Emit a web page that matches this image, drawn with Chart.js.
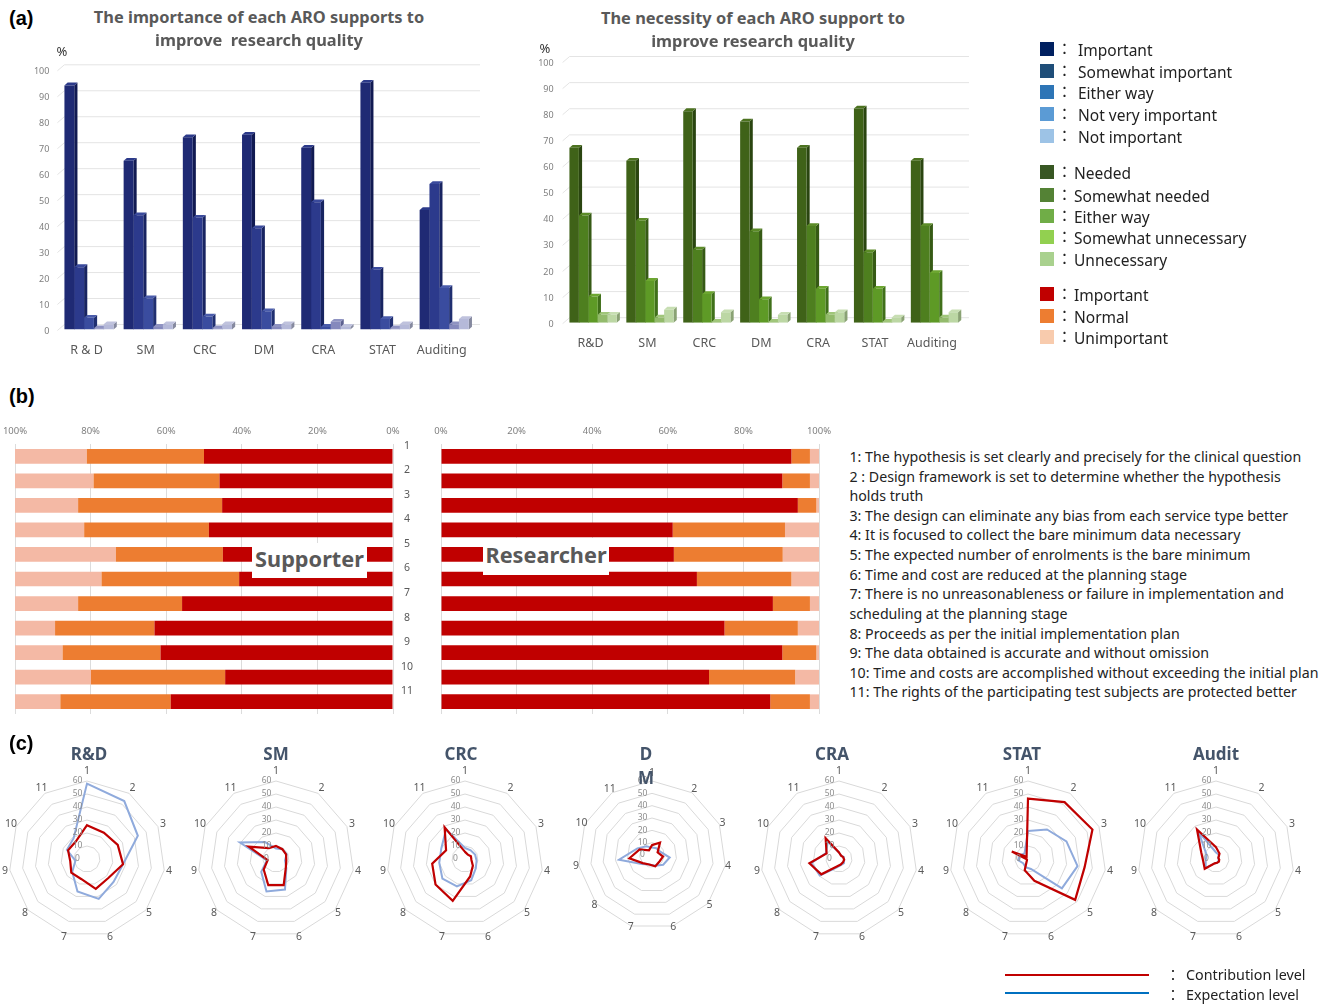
<!DOCTYPE html>
<html>
<head>
<meta charset="utf-8">
<title>ARO support charts</title>
<script src="https://cdn.jsdelivr.net/npm/chart.js@4"></script>
<style>
html,body{margin:0;padding:0;background:#fff;}
#page{position:relative;width:1332px;height:1004px;overflow:hidden;background:#fff;font-family:"Noto Sans",sans-serif;}
#page canvas{position:absolute;}
.t{position:absolute;white-space:pre;line-height:1;transform:translate(0,-50%);}
.c{transform:translate(-50%,-50%);}
.sq{position:absolute;width:14px;height:14px;}
.box{position:absolute;background:#fff;}
.ln{position:absolute;height:2px;}
</style>
</head>
<body>
<div id="page"></div>
<script>
// --- (a) bars ---
const AROS_A1 = ['R & D','SM','CRC','DM','CRA','STAT','Auditing'];
const AROS_A2 = ['R&D','SM','CRC','DM','CRA','STAT','Auditing'];
const PCT_TICKS = [0,10,20,30,40,50,60,70,80,90,100];

const impImportant = [94,65,74,75,70,95,46];
const impSomewhat  = [24,44,43,39,49,23,56];
const impEither    = [4.5,12,5,7,1,4,16];
const impNotVery   = [0.5,1,0.5,1,3,0.5,2];
const impNot       = [2,2,2,2,1,2,4];

const necNeeded    = [67,62,81,77,67,82,62];
const necSomewhat  = [41,39,28,35,37,27,37];
const necEither    = [10,16,11,9,13,13,19];
const necSomeUnn   = [3,2,0.3,0.3,3,0.3,2];
const necUnn       = [3,5,4,3,4,2,4];

// --- (b) stacked bars ---
const ITEMS = ['1','2','3','4','5','6','7','8','9','10','11'];
const supImportant = [50,45.9,45.2,48.7,45,40.7,55.8,63.1,61.5,44.4,58.8];
const supNormal    = [31,33.3,38.1,33,28.3,36.4,27.5,26.3,25.9,35.5,29.2];
const supUnimp     = [19,20.8,16.7,18.3,26.7,22.9,16.7,10.6,12.6,20.1,12];
const resImportant = [92.7,90.3,94.4,61.3,61.6,67.7,87.8,75,90.3,70.9,87.1];
const resNormal    = [4.9,7.3,4.9,29.7,28.8,25,9.8,19.4,9,22.8,10.5];
const resUnimp     = [2.4,2.4,0.7,9,9.6,7.3,2.4,5.6,0.7,6.3,2.4];

// --- (c) radar, item 1..11 ---
const rdContribution   = [26,24,26,28,22,24,16,16,13,16,16];
const rdExpectation    = [58,53,43,28,27,32,26,15,9,17,19];
const smContribution   = [10,9,8.5,8,10,21,21,12.5,6.5,23,10];
const smExpectation    = [8,9,9,7,10.5,24.5,26,15,7,30.5,15.5];
const crcContribution  = [5.5,4,5,5,8,14,33.5,30,25.5,16,29];
const crcExpectation   = [8.5,8,8.5,9,11,17,22,23,20,20,27];
const dmContribution   = [8,12,5,9,8,9.5,8,10,18.5,11,4.5];
const dmExpectation    = [6,6.5,7,14.5,12,9,8,11,27,13,8.5];
const craContribution  = [5,3,3.5,4,4,4.5,6,18,23,10.5,19];
const craExpectation   = [5,3,4,4,5,5,7,19.5,21.5,11,16];
const statContribution = [46.5,52,54.5,44,48,17.5,9,1,1,13.7,2];
const statExpectation  = [21.5,27,32.5,38.5,34.5,8,6.5,5,7.5,7,5];
const auditContribution = [9,5,2,2.5,3,3,3.5,11.5,10,12.5,27];
const auditExpectation  = [5,4,2,2,2.5,3,3.5,10.5,8,8,25];
const RADAR_TICKS_MAX = 60;

// colours
const BLUE_FACE = ['#1f2a74','#2c3a8c','#3a4c9f','#8589bd','#b5b9d9'];
const BLUE_SIDE = ['#111a52','#182461','#202f70','#5c6090','#85899f'];
const BLUE_TOP  = ['#2c3a8a','#3a4a9c','#4a5cab','#8f93c2','#bfc2dd'];
const GREEN_FACE = ['#3f6218','#4e7f1f','#5e9a26','#93bb6c','#bcd7a4'];
const GREEN_SIDE = ['#2a4510','#365a15','#40701a','#6a8a4c','#8aa274'];
const GREEN_TOP  = ['#4c7220','#5c8c28','#6ca630','#a0c67a','#c7deb2'];
const STACK_COLORS = ['#c00000','#ed7d31','#f4b9a5'];
const RED_LINE = '#c00000';
const BLUE_LINE = '#8faadc';
const TEXT = '#595959';

const page = document.getElementById('page');

function addText(txt,x,y,size,opts){
  opts = opts || {};
  const d = document.createElement('div');
  d.className = 't'+(opts.center?' c':'');
  d.textContent = txt;
  d.style.left = x+'px'; d.style.top = y+'px';
  d.style.fontSize = size+'px';
  d.style.color = opts.color || '#222';
  if(opts.bold) d.style.fontWeight = 'bold';
  if(opts.family) d.style.fontFamily = opts.family;
  page.appendChild(d);
}
function addCanvas(x,y,w,h){
  const c = document.createElement('canvas');
  c.width = w; c.height = h;
  c.style.left = x+'px'; c.style.top = y+'px';
  c.style.width = w+'px'; c.style.height = h+'px';
  page.appendChild(c);
  return c;
}
// no label overhang, plot area stays where the padding puts it
function noOverhang(a){ a.paddingLeft = 0; a.paddingRight = 0; a.paddingTop = 0; a.paddingBottom = 0; }

// back grid and bar extrusion, done from the scales and bar elements
const bar3d = {
  id:'bar3d',
  beforeDatasetsDraw(chart,args,o){
    const ctx = chart.ctx, y = chart.scales.y, x = chart.scales.x;
    ctx.save();
    ctx.strokeStyle = '#e4e4e4'; ctx.lineWidth = 1;
    y.ticks.forEach(t=>{
      const p = y.getPixelForValue(t.value);
      ctx.beginPath();
      ctx.moveTo(x.left-2,p+1); ctx.lineTo(x.left+5,p-5); ctx.lineTo(o.gridRight,p-5);
      ctx.stroke();
    });
    const dx = 3.2, dy = 2.8;
    for(let j=0;j<chart.data.labels.length;j++){
      chart.data.datasets.forEach((ds,i)=>{
        const b = chart.getDatasetMeta(i).data[j];
        const l = b.x-b.width/2, r = b.x+b.width/2;
        ctx.fillStyle = o.side[i];
        ctx.beginPath();
        ctx.moveTo(r,b.y); ctx.lineTo(r+dx,b.y-dy); ctx.lineTo(r+dx,b.base-dy); ctx.lineTo(r,b.base);
        ctx.closePath(); ctx.fill();
        ctx.fillStyle = o.top[i];
        ctx.beginPath();
        ctx.moveTo(l,b.y); ctx.lineTo(l+dx,b.y-dy); ctx.lineTo(r+dx,b.y-dy); ctx.lineTo(r,b.y);
        ctx.closePath(); ctx.fill();
      });
    }
    ctx.restore();
  }
};

function barChart(box,pad,axisW,axisH,labels,series,face,side,top,gridRight,tickPad){
  const c = addCanvas(box[0],box[1],box[2],box[3]);
  new Chart(c,{
    type:'bar',
    plugins:[bar3d],
    data:{labels:labels,datasets:series.map((s,i)=>({data:s,backgroundColor:face[i],categoryPercentage:0.83,barPercentage:1}))},
    options:{
      responsive:false,animation:false,
      layout:{padding:pad},
      plugins:{legend:{display:false},tooltip:{enabled:false},bar3d:{side:side,top:top,gridRight:gridRight}},
      scales:{
        x:{grid:{display:false,drawTicks:false},border:{display:false},
          ticks:{color:TEXT,font:{size:12.5,family:'"Noto Sans"'},padding:13,labelOffset:-2.5,maxRotation:0,autoSkip:false},
          afterFit(a){a.height=axisH;noOverhang(a);}},
        y:{min:0,max:100,afterBuildTicks(a){a.ticks=PCT_TICKS.map(v=>({value:v}));},grid:{display:false,drawTicks:false},border:{display:false},
          ticks:{color:'#7f7f7f',font:{size:9,family:'"Noto Sans"'},padding:tickPad,labelOffset:1.5},
          afterFit(a){a.width=axisW;noOverhang(a);}}
      }
    }
  });
}

barChart([0,50,500,320],{top:19.8,right:26.2,left:0,bottom:0},59.4,40.5,AROS_A1,
  [impImportant,impSomewhat,impEither,impNotVery,impNot],BLUE_FACE,BLUE_SIDE,BLUE_TOP,480,10);
barChart([500,40,500,320],{top:21.5,right:37.1,left:0,bottom:0},64.6,37.3,AROS_A2,
  [necNeeded,necSomewhat,necEither,necSomeUnn,necUnn],GREEN_FACE,GREEN_SIDE,GREEN_TOP,469,11);

function stackChart(box,pad,series,reverse,showItems){
  const c = addCanvas(box[0],box[1],box[2],box[3]);
  new Chart(c,{
    type:'bar',
    data:{labels:ITEMS,datasets:series.map((s,i)=>({data:s,backgroundColor:STACK_COLORS[i],barPercentage:0.6,categoryPercentage:1}))},
    options:{
      indexAxis:'y',responsive:false,animation:false,
      layout:{padding:pad},
      plugins:{legend:{display:false},tooltip:{enabled:false}},
      scales:{
        x:{position:'top',stacked:true,min:0,max:100,reverse:reverse,grid:{color:'#dcdcdc',drawTicks:false},border:{display:false},
          ticks:{stepSize:20,color:'#808080',padding:7,font:{size:9.5,family:'"Noto Sans"'},callback:v=>v+'%'},
          afterFit(a){a.height=24;noOverhang(a);}},
        y:{position:'right',stacked:true,display:showItems,grid:{display:false,drawTicks:false},border:{display:false},
          ticks:{color:TEXT,crossAlign:'center',padding:8,labelOffset:-10.5,font:{size:10.5,family:'"Noto Sans"'},autoSkip:false},
          afterFit(a){if(showItems)a.width=28;noOverhang(a);}}
      }
    }
  });
}
stackChart([0,420,430,294],{left:15,right:9,top:0,bottom:0},[supImportant,supNormal,supUnimp],true,true);
stackChart([425,420,415,294],{left:16,right:21,top:0,bottom:0},[resImportant,resNormal,resUnimp],false,false);

// radar ring labels and item labels, placed from the scale
const radarText = {
  id:'radarText',
  afterDraw(chart,args,o){
    const ctx = chart.ctx, r = chart.scales.r;
    ctx.save();
    ctx.textAlign = 'center'; ctx.textBaseline = 'middle';
    ctx.font = '8.5px "Noto Sans"'; ctx.fillStyle = '#8c8c8c';
    r.ticks.forEach(t=>{
      ctx.fillText(String(t.value), r.xCenter-9.5, r.yCenter-r.getDistanceFromCenterForValue(t.value));
    });
    ctx.font = '10.5px "Noto Sans"'; ctx.fillStyle = TEXT;
    ITEMS.forEach((lab,i)=>{
      const a = r.getIndexAngle(i);
      const p = r.getPointPosition(i, r.drawingArea+o.gap+1.5*Math.cos(a)+(i===0?3.5:0));
      ctx.fillText(lab,p.x,p.y);
    });
    ctx.restore();
  }
};

function radar(cx,cy,R,gap,contribution,expectation){
  const S = 220;
  const c = addCanvas(cx-S/2,cy-S/2,S,S);
  const p = S/2-R;
  new Chart(c,{
    type:'radar',
    plugins:[radarText],
    data:{labels:ITEMS,datasets:[
      {label:'Contribution level',data:contribution,borderColor:RED_LINE,borderWidth:2.2,pointRadius:0,fill:false},
      {label:'Expectation level',data:expectation,borderColor:BLUE_LINE,borderWidth:2,pointRadius:0,fill:false}
    ]},
    options:{
      responsive:false,animation:false,
      layout:{padding:p},
      plugins:{legend:{display:false},tooltip:{enabled:false},radarText:{gap:gap}},
      scales:{r:{min:0,max:RADAR_TICKS_MAX,beginAtZero:true,
        grid:{color:'#d9d9d9',circular:false},angleLines:{display:false},
        pointLabels:{display:false},ticks:{display:false,stepSize:10}}}
    }
  });
}
radar(87,859,78,5,rdContribution,rdExpectation);
radar(276,859,78,5,smContribution,smExpectation);
radar(465,859,78,5,crcContribution,crcExpectation);
radar(652,855,74,3,dmContribution,dmExpectation);
radar(839,859,78,5,craContribution,craExpectation);
radar(1028,859,78,5,statContribution,statExpectation);
radar(1216,859,78,5,auditContribution,auditExpectation);

// --- text ---
const HEADS = ['(a)','(b)','(c)'];
const HEADS_Y = [18,396,743];
HEADS.forEach((h,i)=>addText(h,9,HEADS_Y[i],20,{bold:true,color:'#000',family:'"Liberation Sans"'}));

const TITLE_OPTS = {center:true,bold:true,color:TEXT};
addText('The importance of each ARO supports to',259,17,16.4,TITLE_OPTS);
addText('improve  research quality',259,40,16.4,TITLE_OPTS);
addText('The necessity of each ARO support to',753,18,16.4,TITLE_OPTS);
addText('improve research quality',753,41,16.4,TITLE_OPTS);
addText('%',62,51,13,{center:true,color:'#333'});
addText('%',545,48,13,{center:true,color:'#333'});

// white patches under the two group names
function namePatch(x,y,w,h,label){
  const d = document.createElement('div');
  d.className = 'box';
  d.style.left=x+'px'; d.style.top=y+'px'; d.style.width=w+'px'; d.style.height=h+'px';
  page.appendChild(d);
  addText(label,x+w/2,y+h/2-1.5,21.7,{center:true,bold:true,color:TEXT});
}
namePatch(252,543,115,35,'Supporter');
namePatch(483,538,126,37,'Researcher');

// legends
const LEG_BLUE = ['Important','Somewhat important','Either way','Not very important','Not important'];
const LEG_BLUE_Y = [49,71,92,114,136];
const LEG_BLUE_C = ['#002060','#1f4e79','#2e75b6','#5b9bd5','#9dc3e6'];
const LEG_GREEN = ['Needed','Somewhat needed','Either way','Somewhat unnecessary','Unnecessary'];
const LEG_GREEN_Y = [172,195,216,237,259];
const LEG_GREEN_C = ['#385723','#548235','#70ad47','#92d050','#a9d18e'];
const LEG_RED = ['Important','Normal','Unimportant'];
const LEG_RED_Y = [294,316,337];
const LEG_RED_C = ['#c00000','#ed7d31','#f8cbad'];

function legend(labels,ys,colors,textX){
  labels.forEach((l,i)=>{
    const s = document.createElement('div');
    s.className = 'sq'; s.style.left='1040px'; s.style.top=(ys[i]-7)+'px'; s.style.background=colors[i];
    page.appendChild(s);
    addText('：',1057,ys[i]-2,15,{family:'"Noto Sans CJK JP"'});
    addText(l,textX,ys[i]+2,15.5);
  });
}
legend(LEG_BLUE,LEG_BLUE_Y,LEG_BLUE_C,1078);
legend(LEG_GREEN,LEG_GREEN_Y,LEG_GREEN_C,1074);
legend(LEG_RED,LEG_RED_Y,LEG_RED_C,1074);

// item descriptions
const NOTES = [
  '1: The hypothesis is set clearly and precisely for the clinical question',
  '2 : Design framework is set to determine whether the hypothesis',
  'holds truth',
  '3: The design can eliminate any bias from each service type better',
  '4: It is focused to collect the bare minimum data necessary',
  '5: The expected number of enrolments is the bare minimum',
  '6: Time and cost are reduced at the planning stage',
  '7: There is no unreasonableness or failure in implementation and',
  'scheduling at the planning stage',
  '8: Proceeds as per the initial implementation plan',
  '9: The data obtained is accurate and without omission',
  '10: Time and costs are accomplished without exceeding the initial plan',
  '11: The rights of the participating test subjects are protected better'
];
const NOTES_Y = [457,477,496,516,535,555,575,594,614,634,653,673,692];
NOTES.forEach((n,i)=>addText(n,849.5,NOTES_Y[i],14.2));

// radar titles
const RADAR_TITLES = ['R&D','SM','CRC','D','M','CRA','STAT','Audit'];
const RADAR_TITLES_X = [89,276,461,646,646,832,1022,1216];
const RADAR_TITLES_Y = [753,753,753,753,777,753,753,753];
RADAR_TITLES.forEach((t,i)=>addText(t,RADAR_TITLES_X[i],RADAR_TITLES_Y[i],17,{center:true,bold:true,color:'#44546a'}));

// line legend
const LEG_LINES = ['Contribution level','Expectation level'];
const LEG_LINES_Y = [975,995];
const LEG_LINES_C = ['#c00000','#0070c0'];
LEG_LINES.forEach((l,i)=>{
  const d = document.createElement('div');
  d.className='ln'; d.style.left='1005px'; d.style.width='144px';
  d.style.top=(LEG_LINES_Y[i]-1+(i?-2:0))+'px'; d.style.background=LEG_LINES_C[i];
  page.appendChild(d);
  addText('：',1166,LEG_LINES_Y[i]-1,14,{family:'"Noto Sans CJK JP"'});
  addText(l,1186,LEG_LINES_Y[i],14.3);
});
</script>
</body>
</html>
